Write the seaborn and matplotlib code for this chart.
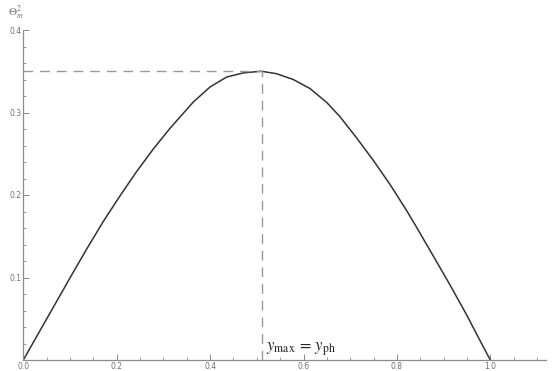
import numpy as np
import pandas as pd
import matplotlib
matplotlib.use("Agg")
import matplotlib.pyplot as plt
import seaborn as sns
from matplotlib.ticker import MultipleLocator

# ── Data ────────────────────────────────────────────────────────
x_vals = [0.0, 0.0286, 0.0643, 0.100, 0.1357, 0.1714, 0.2071, 0.2428, 0.2784,
          0.3141, 0.364, 0.400, 0.4355, 0.471, 0.4997, 0.510, 0.5426, 0.578,
          0.614, 0.650, 0.678, 0.714, 0.7495, 0.785, 0.821, 0.842, 0.878,
          0.9137, 0.9495, 0.985, 1.0]
y_vals = [0.0, 0.0285, 0.0640, 0.0995, 0.1345, 0.168, 0.199, 0.2285, 0.2558,
          0.2808, 0.3127, 0.331, 0.343, 0.348, 0.3495, 0.350, 0.347, 0.340,
          0.329, 0.312, 0.295, 0.269, 0.242, 0.213, 0.181, 0.161, 0.126,
          0.091, 0.0545, 0.016, 0.0]
peak_x = 0.511
peak_y = 0.35
x_ticks = [0.0, 0.2, 0.4, 0.6, 0.8, 1.0]
y_ticks = [0.1, 0.2, 0.3, 0.4]

df = pd.DataFrame({"y": x_vals, "theta": y_vals})

sns.set_style("white")
plt.rcParams["mathtext.fontset"] = "stix"

GRAY = "#8c8c8c"
LABEL = "#707070"

fig = plt.figure(figsize=(5.52, 3.71), dpi=100)
ax = fig.add_axes([23.3 / 552, 11 / 371, 1.12 * 467 / 552, 330 / 371])

sns.lineplot(data=df, x="y", y="theta", ax=ax, color="#333333", linewidth=1.1)

# dashed guides to the maximum
ax.hlines(peak_y, 0, peak_x, colors="#999999", linestyles=(0, (7, 5)), linewidth=1.0)
ax.vlines(peak_x, 0, peak_y, colors="#999999", linestyles=(0, (7, 5)), linewidth=1.0)

ax.set_xlim(0, 1.12)
ax.set_ylim(0, 0.4)
ax.set_xlabel("")
ax.set_ylabel("")

ax.set_xticks(x_ticks)
ax.set_xticklabels([f"{t:.1f}" for t in x_ticks])
ax.set_yticks(y_ticks)
ax.set_yticklabels([f"{t:.1f}" for t in y_ticks])
ax.xaxis.set_minor_locator(MultipleLocator(0.05))
ax.yaxis.set_minor_locator(MultipleLocator(0.02))
ax.tick_params(which="both", bottom=True, left=True, top=False, right=False)
ax.tick_params(which="major", direction="in", length=4, width=0.7, color=GRAY,
               labelsize=5.5, labelcolor=LABEL, pad=1.5)
ax.tick_params(which="minor", direction="in", length=2, width=0.6, color=GRAY)

for side in ["top", "right"]:
    ax.spines[side].set_visible(False)
for side in ["left", "bottom"]:
    ax.spines[side].set_color(GRAY)
    ax.spines[side].set_linewidth(0.9)

ax.text(0.52, 0.012, r"$y_{\rm max}\,=\,y_{\rm ph}$", fontsize=12, color="#222222",
        va="baseline", ha="left")
fig.text(16 / 552, 1 - 16 / 371, r"$\Theta_m^2$", fontsize=8, color=LABEL,
         ha="center", va="baseline")

fig.savefig("out.png", dpi=100)
plt.close(fig)
